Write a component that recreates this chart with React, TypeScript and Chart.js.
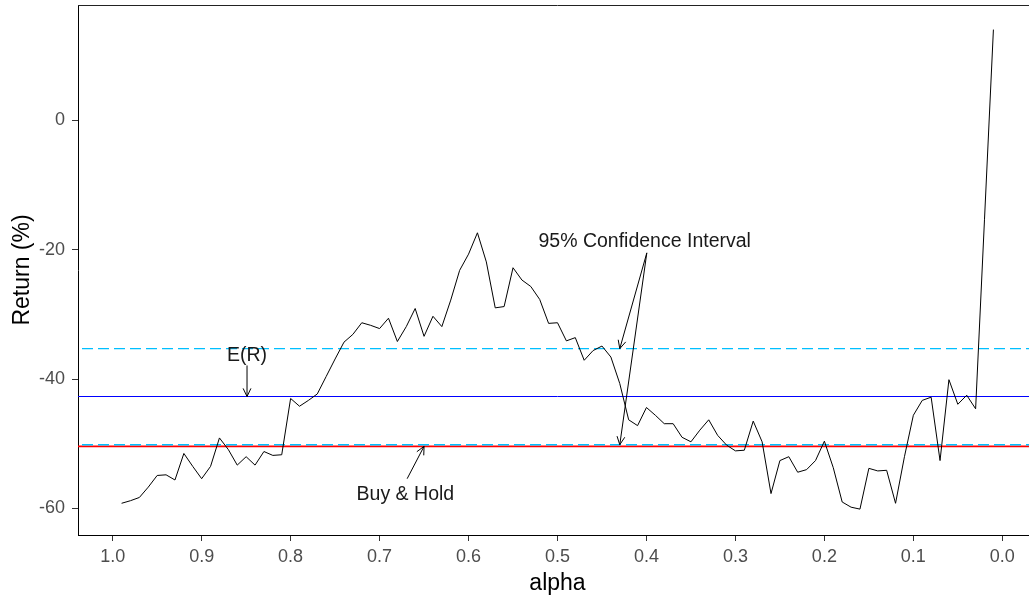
import React, { useEffect, useRef } from 'react';
import { Chart, registerables } from 'chart.js';

Chart.register(...registerables);

// ---- data ----
const ALPHA = [
  0.99, 0.98, 0.97, 0.96, 0.95, 0.94, 0.93, 0.92, 0.91, 0.9,
  0.89, 0.88, 0.87, 0.86, 0.85, 0.84, 0.83, 0.82, 0.81, 0.8,
  0.79, 0.78, 0.77, 0.76, 0.75, 0.74, 0.73, 0.72, 0.71, 0.7,
  0.69, 0.68, 0.67, 0.66, 0.65, 0.64, 0.63, 0.62, 0.61, 0.6,
  0.59, 0.58, 0.57, 0.56, 0.55, 0.54, 0.53, 0.52, 0.51, 0.5,
  0.49, 0.48, 0.47, 0.46, 0.45, 0.44, 0.43, 0.42, 0.41, 0.4,
  0.39, 0.38, 0.37, 0.36, 0.35, 0.34, 0.33, 0.32, 0.31, 0.3,
  0.29, 0.28, 0.27, 0.26, 0.25, 0.24, 0.23, 0.22, 0.21, 0.2,
  0.19, 0.18, 0.17, 0.16, 0.15, 0.14, 0.13, 0.12, 0.11, 0.1,
  0.09, 0.08, 0.07, 0.06, 0.05, 0.04, 0.03, 0.02, 0.01,
];

const RETURNS = [
  -59.2, -58.8, -58.3, -56.7, -54.9, -54.8, -55.6, -51.5, -53.5, -55.4,
  -53.5, -49.1, -50.9, -53.3, -52.0, -53.3, -51.2, -51.8, -51.7, -43.0,
  -44.2, -43.3, -42.3, -39.6, -36.9, -34.3, -33.1, -31.3, -31.7, -32.2,
  -30.6, -34.2, -31.9, -29.1, -33.4, -30.3, -31.9, -27.8, -23.2, -20.7,
  -17.4, -21.9, -29.0, -28.8, -22.8, -24.7, -25.7, -27.7, -31.4, -31.3,
  -34.1, -33.6, -37.1, -35.6, -34.9, -36.6, -40.7, -46.3, -47.2, -44.4,
  -45.6, -46.9, -46.9, -49.0, -49.7, -47.9, -46.3, -48.7, -50.2, -51.1,
  -51.0, -46.5, -49.7, -57.7, -52.6, -52.0, -54.4, -54.0, -52.6, -49.6,
  -53.7, -59.0, -59.8, -60.1, -53.8, -54.2, -54.1, -59.2, -52.0, -45.6,
  -43.3, -42.8, -52.6, -40.1, -43.9, -42.5, -44.6, -15.3, 14.0,
];

const X_TICKS = [1.0, 0.9, 0.8, 0.7, 0.6, 0.5, 0.4, 0.3, 0.2, 0.1, 0.0];
const Y_TICKS = [0, -20, -40, -60];

const EXPECTED_RETURN = -42.7;
const CI_UPPER = -35.3;
const CI_LOWER = -50.15;
const BUY_HOLD = -50.4;

const X_MIN = -0.039;
const X_MAX = 1.039;
const Y_MIN = -64.1;
const Y_MAX = 17.8;

const LABELS = [
  { text: 'E(R)', alpha: 0.849, value: -36.4 },
  { text: 'Buy & Hold', alpha: 0.671, value: -57.9 },
  { text: '95% Confidence Interval', alpha: 0.402, value: -18.7 },
];

const ARROWS = [
  { fromA: 0.849, fromV: -37.9, toA: 0.849, toV: EXPECTED_RETURN },
  { fromA: 0.669, fromV: -55.4, toA: 0.65, toV: BUY_HOLD },
  { fromA: 0.3996, fromV: -20.5, toA: 0.43, toV: CI_UPPER },
  { fromA: 0.3996, fromV: -20.5, toA: 0.43, toV: CI_LOWER },
];

const FONT = "'Liberation Sans', Arial, sans-serif";

function hline(v: number) {
  return [
    { x: X_MIN, y: v },
    { x: X_MAX, y: v },
  ];
}

function drawArrow(ctx: CanvasRenderingContext2D, x1: number, y1: number, x2: number, y2: number) {
  const ang = Math.atan2(y2 - y1, x2 - x1);
  const L = 9;
  const A = Math.PI / 7;
  ctx.beginPath();
  ctx.moveTo(x1, y1);
  ctx.lineTo(x2, y2);
  ctx.moveTo(x2 - L * Math.cos(ang - A), y2 - L * Math.sin(ang - A));
  ctx.lineTo(x2, y2);
  ctx.lineTo(x2 - L * Math.cos(ang + A), y2 - L * Math.sin(ang + A));
  ctx.stroke();
}

const annotationPlugin = {
  id: 'annotations',
  afterDraw(chart: any) {
    const { ctx, chartArea, scales } = chart;
    const xs = scales.x;
    const ys = scales.y;
    ctx.save();
    // panel frame (top edge)
    ctx.strokeStyle = '#222222';
    ctx.lineWidth = 1;
    ctx.beginPath();
    ctx.moveTo(chartArea.left, chartArea.top + 0.5);
    ctx.lineTo(chartArea.right, chartArea.top + 0.5);
    ctx.stroke();

    // arrows
    ctx.strokeStyle = '#000000';
    ctx.lineWidth = 1;
    for (const a of ARROWS) {
      drawArrow(
        ctx,
        xs.getPixelForValue(a.fromA),
        ys.getPixelForValue(a.fromV),
        xs.getPixelForValue(a.toA),
        ys.getPixelForValue(a.toV)
      );
    }

    // labels
    ctx.fillStyle = '#1a1a1a';
    ctx.font = `19.5px ${FONT}`;
    ctx.textAlign = 'center';
    ctx.textBaseline = 'middle';
    for (const l of LABELS) {
      ctx.fillText(l.text, xs.getPixelForValue(l.alpha), ys.getPixelForValue(l.value));
    }
    ctx.restore();
  },
};

export default function App() {
  const ref = useRef<HTMLCanvasElement | null>(null);

  useEffect(() => {
    if (!ref.current) return;
    const points = ALPHA.map((a, i) => ({ x: a, y: RETURNS[i] }));
    const chart = new Chart(ref.current, {
      type: 'line',
      data: {
        datasets: [
          {
            label: 'Return',
            data: points,
            borderColor: '#000000',
            borderWidth: 1,
            pointRadius: 0,
            tension: 0,
            fill: false,
          },
          {
            label: 'E(R)',
            data: hline(EXPECTED_RETURN),
            borderColor: '#0000FF',
            borderWidth: 1,
            pointRadius: 0,
          },
          {
            label: 'CI upper',
            data: hline(CI_UPPER),
            borderColor: '#00BFFF',
            borderWidth: 1.3,
            borderDash: [11, 5],
            pointRadius: 0,
          },
          {
            label: 'CI lower',
            data: hline(CI_LOWER),
            borderColor: '#00BFFF',
            borderWidth: 1.3,
            borderDash: [11, 5],
            pointRadius: 0,
          },
          {
            label: 'Buy & Hold',
            data: hline(BUY_HOLD),
            borderColor: '#FF0000',
            borderWidth: 1.6,
            pointRadius: 0,
          },
        ],
      },
      options: {
        animation: false,
        responsive: false,
        devicePixelRatio: 1,
        layout: { padding: { top: 5, left: 0, right: 0, bottom: 0 } },
        plugins: {
          legend: { display: false },
          tooltip: { enabled: false },
        },
        scales: {
          x: {
            type: 'linear',
            reverse: true,
            min: X_MIN,
            max: X_MAX,
            afterBuildTicks: (s: any) => {
              s.ticks = X_TICKS.map((v) => ({ value: v }));
            },
            afterFit: (s: any) => {
              s.height = 60;
              s.paddingLeft = 0;
              s.paddingRight = 0;
              s.paddingTop = 0;
              s.paddingBottom = 0;
            },
            ticks: {
              callback: (v: any) => Number(v).toFixed(1),
              color: '#4D4D4D',
              font: { family: FONT, size: 18 },
              padding: 5,
              maxRotation: 0,
              autoSkip: false,
            },
            grid: {
              drawOnChartArea: false,
              drawTicks: true,
              tickLength: 6,
              color: '#333333',
              lineWidth: 1,
            },
            border: { display: true, color: '#000000', width: 1 },
            title: {
              display: true,
              text: 'alpha',
              color: '#000000',
              font: { family: FONT, size: 23, lineHeight: 1 },
              padding: { top: 0, bottom: 0 },
            },
          },
          y: {
            type: 'linear',
            min: Y_MIN,
            max: Y_MAX,
            afterBuildTicks: (s: any) => {
              s.ticks = Y_TICKS.map((v) => ({ value: v }));
            },
            afterFit: (s: any) => {
              s.width = 78;
              s.paddingLeft = 0;
              s.paddingRight = 0;
              s.paddingTop = 0;
              s.paddingBottom = 0;
            },
            ticks: {
              callback: (v: any) => String(v),
              color: '#4D4D4D',
              font: { family: FONT, size: 18 },
              padding: 7,
            },
            grid: {
              drawOnChartArea: false,
              drawTicks: true,
              tickLength: 6,
              color: '#333333',
              lineWidth: 1,
            },
            border: { display: true, color: '#000000', width: 1 },
            title: {
              display: true,
              text: 'Return (%)',
              color: '#000000',
              font: { family: FONT, size: 23, lineHeight: 1 },
              padding: { top: 11, bottom: 0 },
            },
          },
        },
      } as any,
      plugins: [annotationPlugin],
    });
    return () => chart.destroy();
  }, []);

  return (
    <div
      style={{
        position: 'fixed',
        left: 0,
        top: 0,
        width: 1029,
        height: 595,
        overflow: 'hidden',
        background: '#ffffff',
      }}
    >
      <canvas ref={ref} width={1037} height={595} style={{ display: 'block' }} />
    </div>
  );
}
